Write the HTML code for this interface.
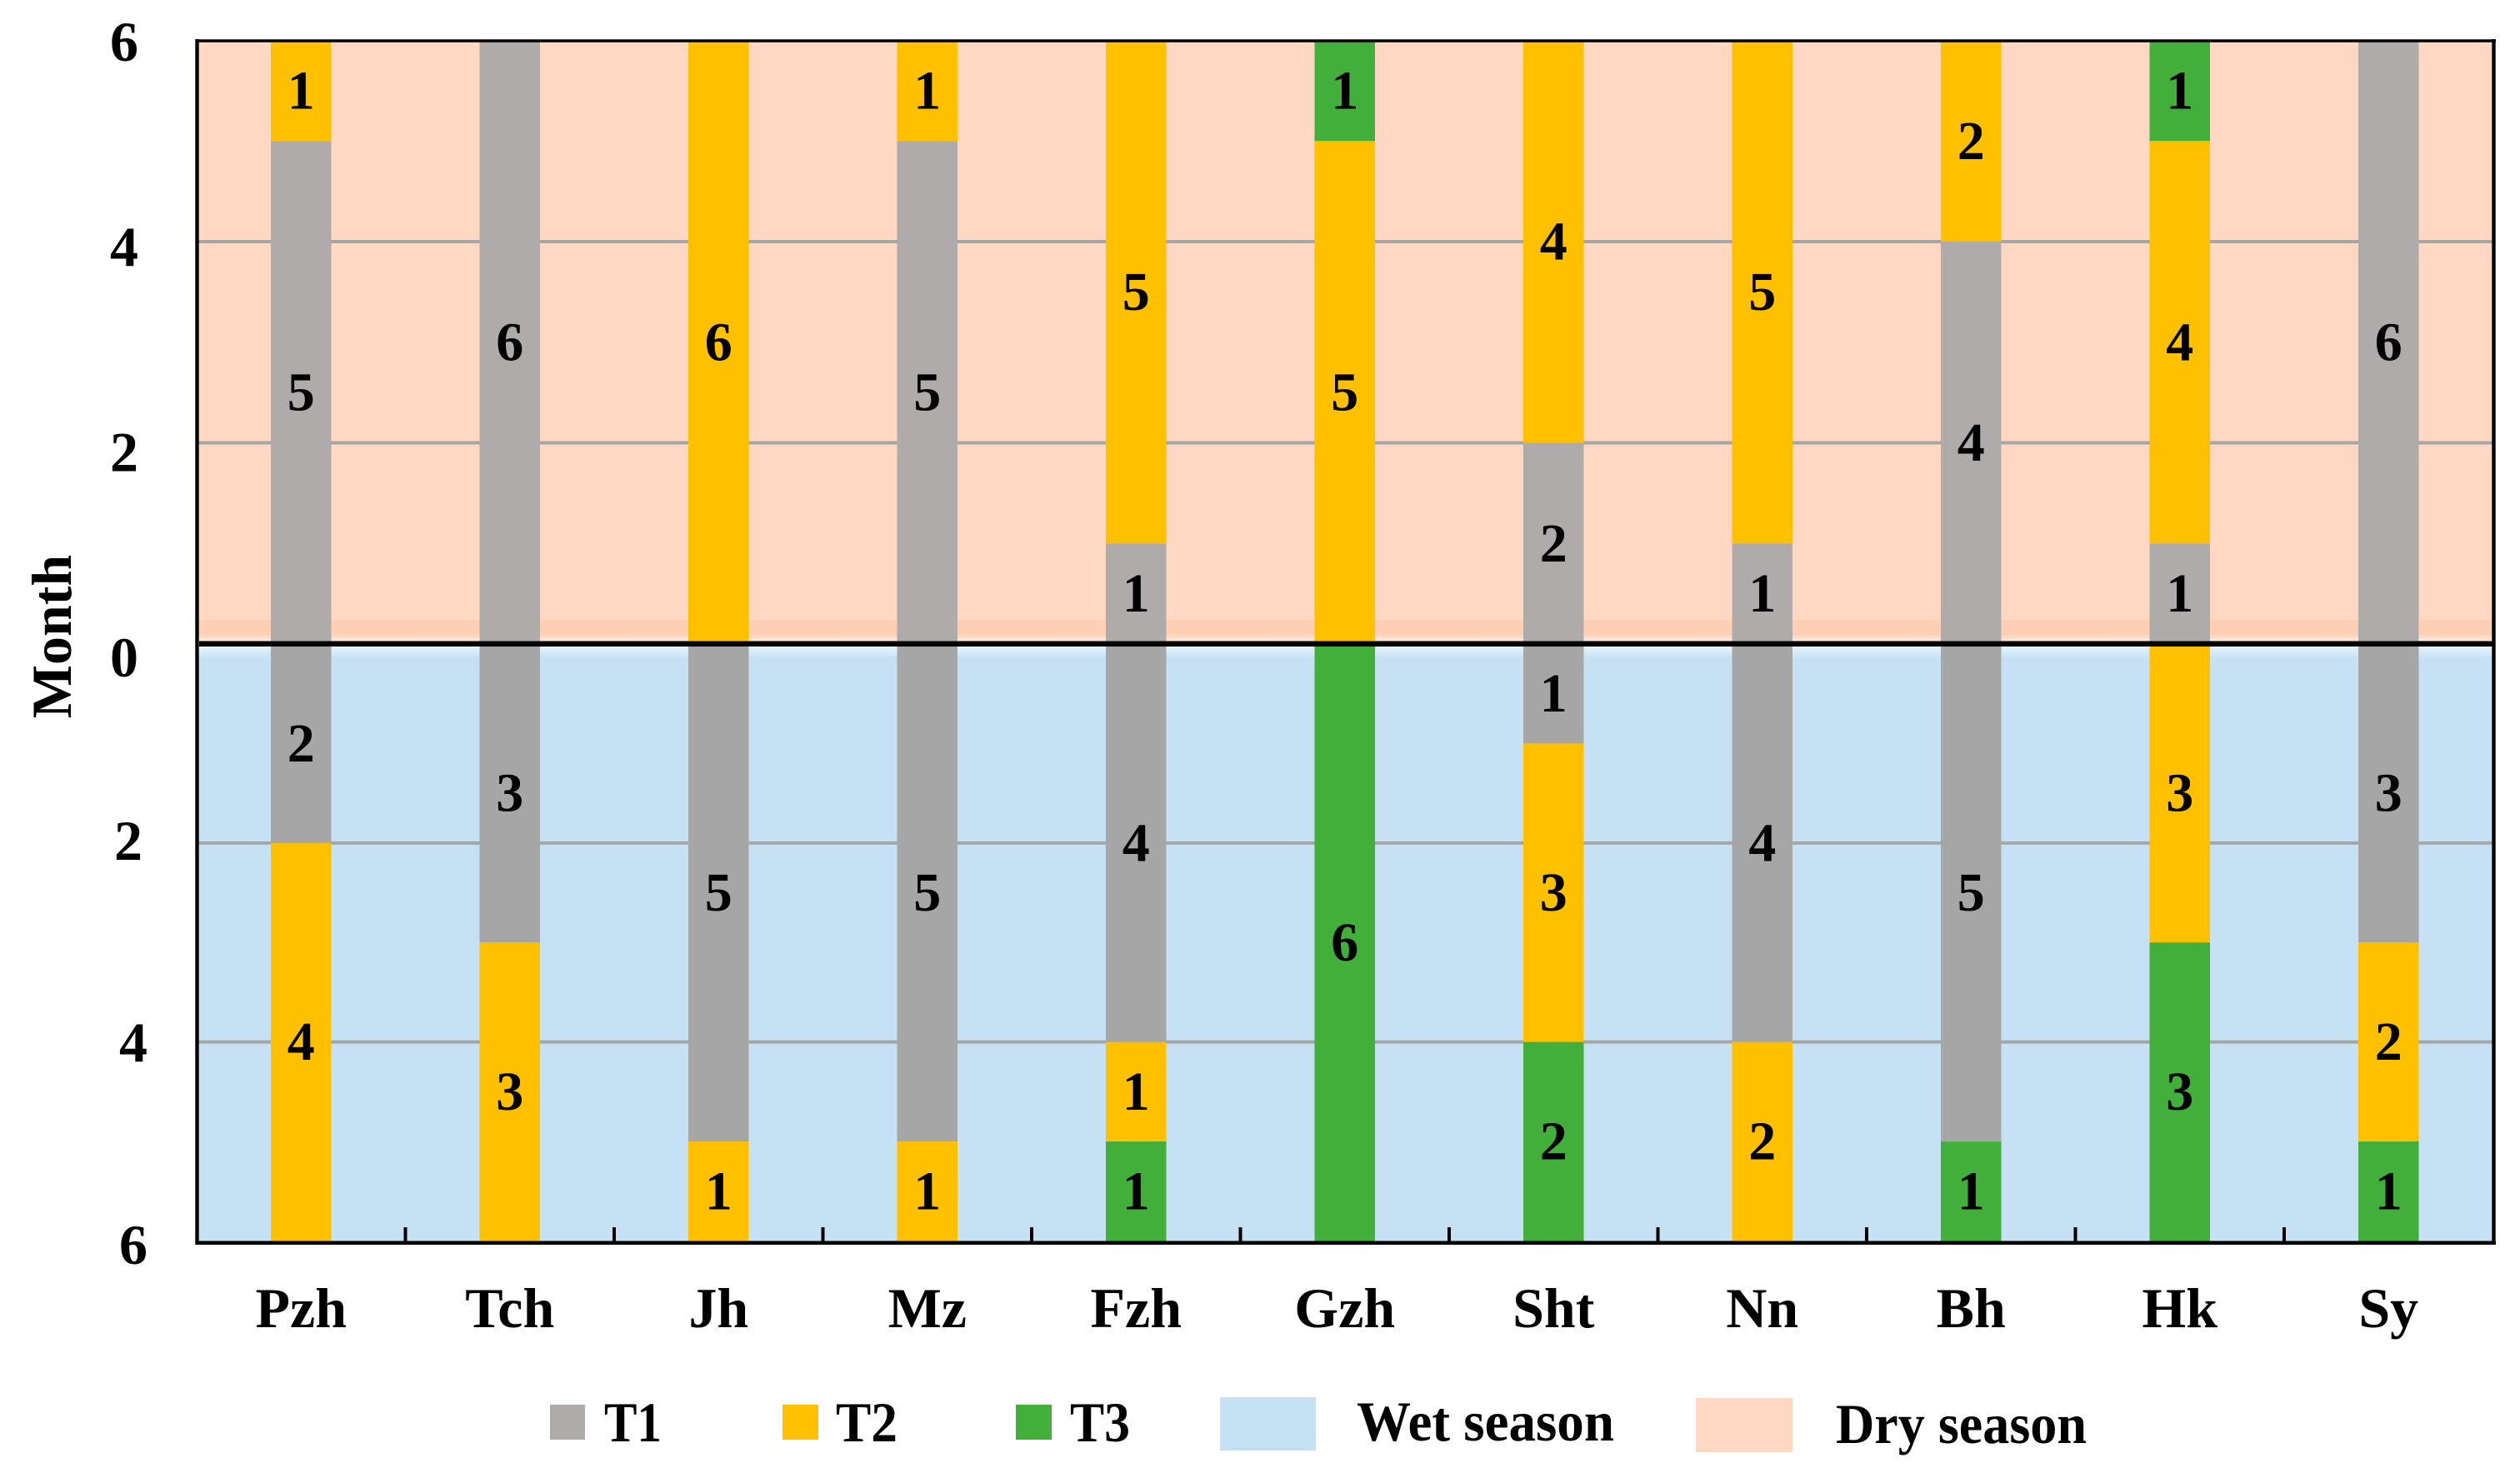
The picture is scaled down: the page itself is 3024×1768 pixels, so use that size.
<!DOCTYPE html>
<html lang="en">
<head>
<meta charset="utf-8">
<title>Months by type in wet and dry seasons</title>
<style>
html,body{margin:0;padding:0;background:#fff;}
svg{display:block;}
text{font-family:"Liberation Serif",serif;font-weight:bold;fill:#000;}
</style>
</head>
<body>
<svg id="chart" xmlns="http://www.w3.org/2000/svg" width="3024" height="1768" viewBox="0 0 3024 1768">
  <defs>
    <linearGradient id="dryFade" x1="0" y1="0" x2="0" y2="1">
      <stop offset="0" stop-color="#FDD0B5"/>
      <stop offset="1" stop-color="#FFF0E6"/>
    </linearGradient>
    <linearGradient id="wetFade" x1="0" y1="0" x2="0" y2="1">
      <stop offset="0" stop-color="#E6F4FD"/>
      <stop offset="1" stop-color="#C6E1F3"/>
    </linearGradient>
  </defs>
  <rect x="236" y="48" width="2757" height="725" fill="#FED8C2"/>
  <rect x="238" y="744" width="2753" height="17" fill="#FDD0B5"/>
  <rect x="238" y="761" width="2753" height="10" fill="url(#dryFade)"/>
  <rect x="236" y="773" width="2757" height="718" fill="#C6E1F3"/>
  <rect x="238" y="776" width="2753" height="14" fill="url(#wetFade)"/>
  <g id="grid"></g>
  <g id="bars"></g>
  <g id="frame">
    <line x1="234.5" y1="49" x2="2995" y2="49" stroke="#000" stroke-width="3.5"/>
    <line x1="236.5" y1="47" x2="236.5" y2="1494" stroke="#000" stroke-width="4.4"/>
    <line x1="2992.5" y1="47" x2="2992.5" y2="1494" stroke="#000" stroke-width="4.4"/>
    <line x1="234.5" y1="1491.7" x2="2995" y2="1491.7" stroke="#000" stroke-width="4.5"/>
    <line x1="239" y1="772.8" x2="2993" y2="772.8" stroke="#000" stroke-width="6.5"/>
  </g>
  <g id="ticks"></g>
  <g id="segmentLabels"></g>
  <g id="yLabels"></g>
  <g id="xLabels"></g>
  <text transform="translate(85 764) rotate(-90)" text-anchor="middle" font-size="68">Month</text>
  <g>
    <g>
      <rect x="660" y="1686" width="42" height="42" fill="#AFABAB"/>
      <text x="725" y="1730" font-size="68" textLength="69" lengthAdjust="spacingAndGlyphs">T1</text>
    </g>
    <g>
      <rect x="939" y="1686" width="43" height="42" fill="#FFC000"/>
      <text x="1003" y="1730" font-size="68" textLength="74" lengthAdjust="spacingAndGlyphs">T2</text>
    </g>
    <g>
      <rect x="1219" y="1686" width="43" height="42" fill="#43AF3B"/>
      <text x="1284" y="1730" font-size="68" textLength="72" lengthAdjust="spacingAndGlyphs">T3</text>
    </g>
    <g>
      <rect x="1464" y="1677" width="115" height="64" fill="#C6E1F3"/>
      <text x="1628" y="1729" font-size="68" textLength="309" lengthAdjust="spacingAndGlyphs">Wet season</text>
    </g>
    <g>
      <rect x="2035" y="1678" width="116" height="65" fill="#FED8C2"/>
      <text x="2203" y="1732" font-size="68" textLength="301" lengthAdjust="spacingAndGlyphs">Dry season</text>
    </g>
  </g>
</svg>
<script>
const categories = ["Pzh","Tch","Jh","Mz","Fzh","Gzh","Sht","Nn","Bh","Hk","Sy"];
const dryT1 = [5,6,0,5,1,0,2,1,4,1,6];
const dryT2 = [1,0,6,1,5,5,4,5,2,4,0];
const dryT3 = [0,0,0,0,0,1,0,0,0,1,0];
const wetT1 = [2,3,5,5,4,0,1,4,5,0,3];
const wetT2 = [4,3,1,1,1,0,3,2,0,3,2];
const wetT3 = [0,0,0,0,1,6,2,0,1,3,1];
const dryTicks = [0,2,4,6];
const wetTicks = [2,4,6];
const wetGrid = [2,4];
const dryGrid = [2,4];

const NS = "http://www.w3.org/2000/svg";
const plotLeft = 236, plotRight = 2993, zeroY = 773, dryTopY = 48.5, wetBottomY = 1489.5, barWidth = 72.5;
const band = 250.5;
const xCenter = function (i) { return plotLeft + band * (i + 0.5); };
const yDry = function (v) { return zeroY - v * (zeroY - dryTopY) / 6; };
const yWet = function (v) { return zeroY + v * (wetBottomY - zeroY) / 6; };
const dryLabelY = function (v) { return 812 - v * (812 - 73) / 6; };
const wetLabelY = function (v) { return 1517 - (6 - v) * 121.25; };

function make(tag, parentId, attrs, content) {
  const el = document.createElementNS(NS, tag);
  for (const k in attrs) { el.setAttribute(k, attrs[k]); }
  if (content !== undefined) { el.textContent = content; }
  document.getElementById(parentId).appendChild(el);
  return el;
}

dryGrid.forEach(function (v) {
  const el = make("line", "grid", {x1: plotLeft, x2: plotRight, y1: yDry(v), y2: yDry(v), stroke: "#A6A6A6", "stroke-width": 4});
  
  
});
wetGrid.forEach(function (v) {
  const el = make("line", "grid", {x1: plotLeft, x2: plotRight, y1: yWet(v), y2: yWet(v), stroke: "#A6A6A6", "stroke-width": 4});
  
  
});

function drawSegment(i, series, season, start, value, fill, yFn) {
  if (!value) { return; }
  const y1 = yFn(start), y2 = yFn(start + value);
  const top = Math.min(y1, y2), h = Math.abs(y2 - y1);
  const rect = make("rect", "bars", {x: xCenter(i) - barWidth / 2, y: top, width: barWidth, height: h, fill: fill});
  
  
  const label = make("text", "segmentLabels", {x: xCenter(i), y: top + h / 2 + 21.5, "text-anchor": "middle", "font-size": 66}, String(value));
  
  
}

categories.forEach(function (name, i) {
  let d = 0;
  drawSegment(i, "t1", "dry", d, dryT1[i], "#AFABAB", yDry); d += dryT1[i];
  drawSegment(i, "t2", "dry", d, dryT2[i], "#FFC000", yDry); d += dryT2[i];
  drawSegment(i, "t3", "dry", d, dryT3[i], "#43AF3B", yDry);
  let w = 0;
  drawSegment(i, "t1", "wet", w, wetT1[i], "#A6A6A6", yWet); w += wetT1[i];
  drawSegment(i, "t2", "wet", w, wetT2[i], "#FFC000", yWet); w += wetT2[i];
  drawSegment(i, "t3", "wet", w, wetT3[i], "#43AF3B", yWet);

  const xl = make("text", "xLabels", {x: xCenter(i), y: 1593, "text-anchor": "middle", "font-size": 68}, name);
  
  

  if (i > 0) {
    const t = make("line", "ticks", {x1: plotLeft + band * i, x2: plotLeft + band * i, y1: 1473, y2: 1490, stroke: "#000", "stroke-width": 4});
    
    
  }
});

dryTicks.forEach(function (v) {
  const el = make("text", "yLabels", {x: 149, y: dryLabelY(v), "text-anchor": "middle", "font-size": 68}, String(v));
  
  
});
wetTicks.forEach(function (v) {
  const el = make("text", "yLabels", {x: v === 2 ? 154 : 160, y: wetLabelY(v), "text-anchor": "middle", "font-size": 68}, String(v));
  
  
});
</script>
</body>
</html>
